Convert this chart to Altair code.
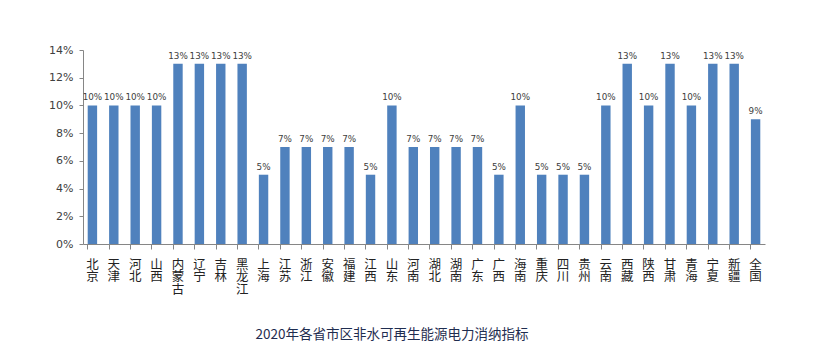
import altair as alt
import pandas as pd

regions = ["北京", "天津", "河北", "山西", "内蒙古", "辽宁", "吉林", "黑龙江", "上海", "江苏",
           "浙江", "安徽", "福建", "江西", "山东", "河南", "湖北", "湖南", "广东", "广西",
           "海南", "重庆", "四川", "贵州", "云南", "西藏", "陕西", "甘肃", "青海", "宁夏",
           "新疆", "全国"]
values = [10, 10, 10, 10, 13, 13, 13, 13, 5, 7,
          7, 7, 7, 5, 10, 7, 7, 7, 7, 5,
          10, 5, 5, 5, 10, 13, 10, 13, 10, 13,
          13, 9]
y_ticks = [0, 0.02, 0.04, 0.06, 0.08, 0.10, 0.12, 0.14]
title_text = "2020年各省市区非水可再生能源电力消纳指标"

df = pd.DataFrame({"region": regions, "value": [v / 100 for v in values]})

FONT = "Noto Sans CJK SC"

base = alt.Chart(df).encode(
    x=alt.X("region:N", sort=regions,
            scale=alt.Scale(paddingInner=0.56, paddingOuter=0.22),
            axis=alt.Axis(title=None, labelAngle=0, labelExpr="split(datum.label, '')",
                          labelFont=FONT, labelFontSize=12.5, labelColor="#222222",
                          labelLineHeight=12.5, labelPadding=9, labelBaseline="top",
                          bandPosition=0, tickSize=5, tickColor="#868686",
                          domainColor="#868686", labelAlign="center")),
    y=alt.Y("value:Q", scale=alt.Scale(domain=[0, 0.14], nice=False),
            axis=alt.Axis(title=None, values=y_ticks, format=".0%", grid=False,
                          labelFont="DejaVu Sans", labelFontSize=11, labelColor="#404040",
                          tickSize=4, tickColor="#868686", domainColor="#868686",
                          labelPadding=6)),
)

bars = base.mark_bar(color="#4F81BD")
labels = base.mark_text(dy=-8, font="DejaVu Sans", fontSize=8.8, color="#404040").encode(
    text=alt.Text("value:Q", format=".0%"))

chart = (bars + labels).properties(
    width=682, height=194,
    autosize=alt.AutoSizeParams(type="none"),
    padding={"left": 75, "top": 42, "right": 51, "bottom": 105},
    title=alt.TitleParams(title_text, orient="bottom", font=FONT, fontSize=13.5,
                          fontWeight="normal", color="#1F2D50", offset=32, dx=-32),
).configure_view(stroke=None)

chart.save("out.html", embed_options={"renderer": "svg", "actions": False})
